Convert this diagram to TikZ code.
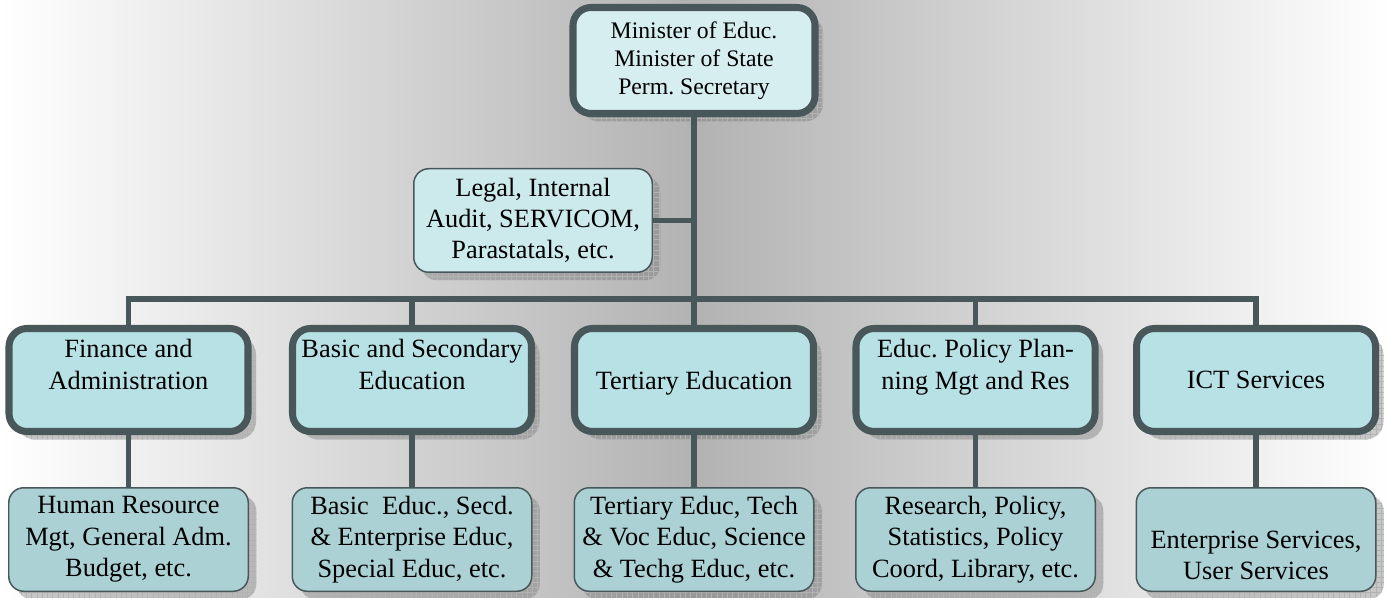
\documentclass[tikz,border=0pt]{standalone}
\usepackage{fontspec}
\setmainfont{Liberation Serif}
\usepackage{tikz}
\usetikzlibrary{positioning, shadows, patterns}
\frenchspacing

\definecolor{boxedge}{RGB}{72,88,90}
\definecolor{headfill}{RGB}{215,238,241}
\definecolor{stafffill}{RGB}{204,233,236}
\definecolor{deptfill}{RGB}{184,225,229}
\definecolor{unitfill}{RGB}{171,209,213}

\tikzset{
    boxshadow/.style={
        drop shadow={shadow xshift=.16cm, shadow yshift=-.16cm, fill=black!60, opacity=.35},
        general shadow={shadow xshift=.16cm, shadow yshift=-.16cm, pattern=grid, pattern color=black!30}},
    head/.style={boxshadow, draw=boxedge, line width=4pt, fill=headfill, rounded corners=.36cm,
        align=center, inner sep=0pt, minimum width=4.84cm, minimum height=2.12cm,
        font={\fontsize{13.5pt}{16pt}\selectfont}},
    dept/.style={boxshadow, draw=boxedge, line width=4pt, fill=deptfill, rounded corners=.36cm,
        align=center, inner sep=0pt, minimum width=4.78cm, minimum height=2.06cm,
        font={\fontsize{15pt}{18pt}\selectfont}},
    staff/.style={boxshadow, draw=boxedge, line width=.85pt, fill=stafffill, rounded corners=.3cm,
        align=center, inner sep=0pt, minimum width=4.77cm, minimum height=2.07cm,
        font={\fontsize{15pt}{17.5pt}\selectfont}},
    unit/.style={boxshadow, draw=boxedge, line width=.85pt, fill=unitfill, rounded corners=.3cm,
        align=center, inner sep=0pt, minimum width=4.79cm, minimum height=2.07cm,
        font={\fontsize{15pt}{18pt}\selectfont}},
    link/.style={draw=boxedge, line width=3.1pt}
}

\begin{document}
\begin{tikzpicture}
    \useasboundingbox (0,0) rectangle (27.8,11.96);
    \shade[left color=white, right color=white, middle color=black!30] (0,0) rectangle (27.8,11.96);

    % top and staff offices
    \node[head](minister) at (13.88,10.75){Minister of Educ.\\Minister of State\\Perm. Secretary};
    \node[staff](legal) at (10.66,7.55){Legal, Internal\\Audit, SERVICOM,\\Parastatals, etc.};

    % departments
    \node[dept](finadm) at (2.57,4.36){Finance and\\Administration\\\mbox{}};
    \node[dept](basicsec) at (8.24,4.36){Basic and Secondary\\Education\\\mbox{}};
    \node[dept, text depth=0pt](tertiary) at (13.88,4.36){Tertiary Education};
    \node[dept](policy) at (19.51,4.36){Educ. Policy Plan-\\ning Mgt and Res\\\mbox{}};
    \node[dept](ict) at (25.12,4.36){ICT Services};

    % units under each department
    \node[unit, below=1.04cm of finadm](hrm){Human Resource\\Mgt, General Adm.\\Budget, etc.};
    \node[unit, below=1.04cm of basicsec](basicunit){Basic~ Educ., Secd.\\\& Enterprise Educ,\\Special Educ, etc.};
    \node[unit, below=1.04cm of tertiary](tertunit){Tertiary Educ, Tech\\\& Voc Educ, Science\\\& Techg Educ, etc.};
    \node[unit, below=1.04cm of policy](research){Research, Policy,\\Statistics, Policy\\Coord, Library, etc.};
    \node[unit, below=1.04cm of ict](services){\rule{0pt}{10pt}\\Enterprise Services,\\User Services};

    \coordinate(bus) at (13.88,5.98);
    \draw[link](minister)--(minister |- bus);
    \draw[link](legal)--(legal -| minister);
    \draw[link, line cap=rect](finadm |- bus)--(ict |- bus);
    \draw[link](finadm |- bus)--(finadm);
    \draw[link](basicsec |- bus)--(basicsec);
    \draw[link](tertiary |- bus)--(tertiary);
    \draw[link](policy |- bus)--(policy);
    \draw[link](ict |- bus)--(ict);
    \draw[link](finadm)--(hrm);
    \draw[link](basicsec)--(basicunit);
    \draw[link](tertiary)--(tertunit);
    \draw[link](policy)--(research);
    \draw[link](ict)--(services);
\end{tikzpicture}
\end{document}
